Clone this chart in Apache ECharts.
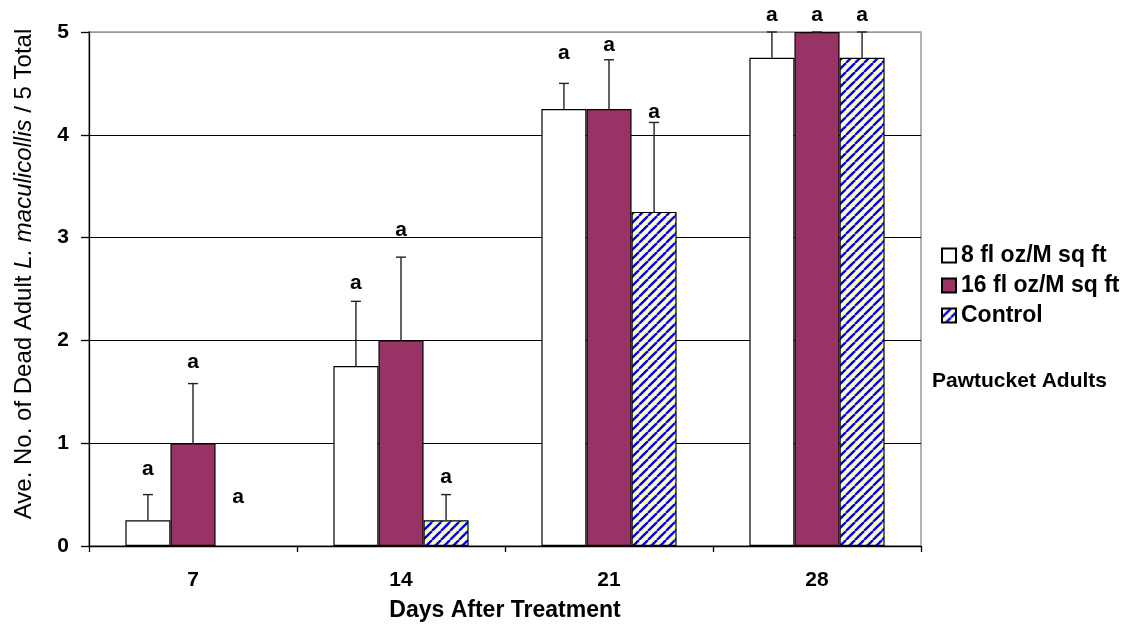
<!DOCTYPE html>
<html>
<head>
<meta charset="utf-8">
<script src="https://cdn.jsdelivr.net/npm/echarts@6/dist/echarts.min.js"></script>
<style>
  html, body { margin: 0; padding: 0; background: #fff; }
  #chart { width: 1127px; height: 633px; }
</style>
</head>
<body>
<div id="chart"></div>
<script>
// Days after treatment
const days = ['7', '14', '21', '28'];
const seriesNames = ['8 fl oz/M sq ft', '16 fl oz/M sq ft', 'Control'];

// Mean dead adults (out of 5)
const rate8 = [0.25, 1.75, 4.25, 4.75];
const rate16 = [1.0, 2.0, 4.25, 5.0];
const control = [0, 0.25, 3.25, 4.75];

// Upper end of each error bar (null = no bar)
const err8 = [0.5, 2.38, 4.5, 5.0];
const err16 = [1.58, 2.81, 4.73, 5.0];
const errControl = [null, 0.5, 4.12, 5.0];

// Significance letters and the height they are written at
const letters8 = ['a', 'a', 'a', 'a'];
const letters16 = ['a', 'a', 'a', 'a'];
const lettersControl = ['a', 'a', 'a', 'a'];
const letterAt8 = [0.75, 2.56, 4.79, 5.16];
const letterAt16 = [1.79, 3.07, 4.87, 5.16];
const letterAtControl = [0.47, 0.67, 4.22, 5.16];

const yTicks = [0, 1, 2, 3, 4, 5];

// Blue diagonal hatching on pale yellow for the control bars
function makeHatch() {
  const s = 9;
  const c = document.createElement('canvas');
  c.width = s; c.height = s;
  const g = c.getContext('2d');
  g.fillStyle = '#ffffcc';
  g.fillRect(0, 0, s, s);
  g.strokeStyle = '#0000ff';
  g.lineWidth = 2.4;
  [-s, 0, s].forEach(function (o) {
    g.beginPath();
    g.moveTo(o, s);
    g.lineTo(o + s, 0);
    g.stroke();
  });
  return c;
}
const hatch = { image: makeHatch(), repeat: 'repeat' };

const FONT = 'Arial, "Liberation Sans", sans-serif';
const GAP = 0.35;

// Zero-height bars draw nothing at all (no outline on the axis)
function barData(vals) {
  return vals.map(function (v) {
    return v === 0 ? { value: v, itemStyle: { borderWidth: 0, opacity: 0 } } : v;
  });
}

function errSeries(k, vals, tops, letters, letterAt) {
  const data = vals.map(function (v, i) { return [i, v, tops[i], letterAt[i], letters[i]]; });
  return {
    type: 'custom',
    z: 5,
    silent: true,
    data: data,
    renderItem: function (params, api) {
      const idx = api.value(0);
      const val = api.value(1);
      const top = api.value(2);
      const lAt = api.value(3);
      const letter = data[params.dataIndex][4];
      const band = api.size([1, 0])[0];
      const barW = band * (1 - GAP) / 3;
      const x = api.coord([idx, 0])[0] + (k - 1) * barW;
      const children = [];
      if (top != null && !isNaN(top)) {
        const y0 = api.coord([idx, val])[1];
        const y1 = api.coord([idx, top])[1];
        children.push({ type: 'line', shape: { x1: x, y1: y0, x2: x, y2: y1 },
          style: { stroke: '#222', lineWidth: 1.4 } });
        children.push({ type: 'line', shape: { x1: x - 5, y1: y1, x2: x + 5, y2: y1 },
          style: { stroke: '#222', lineWidth: 1.4 } });
      }
      const ly = api.coord([idx, lAt])[1];
      children.push({ type: 'text', x: x, y: ly,
        style: { text: letter, font: 'bold 21px ' + FONT, fill: '#000',
          align: 'center', verticalAlign: 'middle' } });
      return { type: 'group', children: children };
    }
  };
}

const chart = echarts.init(document.getElementById('chart'), null, { renderer: 'canvas' });
chart.setOption({
  animation: false,
  backgroundColor: '#fff',
  grid: { left: 89, right: 206, top: 32, bottom: 87, show: true,
    borderColor: '#999', borderWidth: 1.5, backgroundColor: 'transparent' },
  legend: {
    data: seriesNames,
    orient: 'vertical',
    left: 936, top: 239,
    itemWidth: 14, itemHeight: 14, itemGap: 7,
    icon: 'rect',
    textStyle: { fontFamily: FONT, fontWeight: 'bold', fontSize: 23, color: '#000' }
  },
  graphic: [{
    type: 'text', left: 932, top: 371,
    style: { text: 'Pawtucket Adults', font: 'bold 21px ' + FONT, fill: '#000' }
  }],
  xAxis: {
    type: 'category',
    data: days,
    name: 'Days After Treatment',
    nameLocation: 'middle',
    nameGap: 53,
    nameTextStyle: { fontFamily: FONT, fontWeight: 'bold', fontSize: 23, color: '#000' },
    axisLine: { lineStyle: { color: '#000', width: 1.3 } },
    axisTick: { show: true, alignWithLabel: false, length: 6, lineStyle: { color: '#000', width: 1.3 } },
    axisLabel: { margin: 24, fontFamily: FONT, fontWeight: 'bold', fontSize: 21, color: '#000' }
  },
  yAxis: {
    type: 'value',
    min: yTicks[0], max: yTicks[yTicks.length - 1], interval: 1,
    name: '{n|Ave. No. of Dead Adult }{i|L. maculicollis}{n| / 5 Total}',
    nameLocation: 'middle',
    nameGap: 53,
    nameTextStyle: {
      padding: [0, 0, 0, 30],
      rich: {
        n: { fontFamily: FONT, fontSize: 24, color: '#000' },
        i: { fontFamily: FONT, fontSize: 24, fontStyle: 'italic', color: '#000' }
      }
    },
    axisLine: { show: true, lineStyle: { color: '#000', width: 1.3 } },
    axisTick: { show: true, length: 8, lineStyle: { color: '#000', width: 1.3 } },
    axisLabel: { margin: 20, fontFamily: FONT, fontWeight: 'bold', fontSize: 21, color: '#000' },
    splitLine: { show: true, lineStyle: { color: ['#000', '#000', '#000', '#000', '#000', '#999'], width: 1.2 } }
  },
  series: [
    { name: seriesNames[0], type: 'bar', data: barData(rate8), barGap: '0%', barCategoryGap: (GAP * 100) + '%',
      itemStyle: { color: '#ffffff', borderColor: '#000', borderWidth: 1.2 } },
    { name: seriesNames[1], type: 'bar', data: barData(rate16), barGap: '0%', barCategoryGap: (GAP * 100) + '%',
      itemStyle: { color: '#993366', borderColor: '#000', borderWidth: 1.2 } },
    { name: seriesNames[2], type: 'bar', data: barData(control), barGap: '0%', barCategoryGap: (GAP * 100) + '%',
      itemStyle: { color: hatch, borderColor: '#000', borderWidth: 1.2 } },
    errSeries(0, rate8, err8, letters8, letterAt8),
    errSeries(1, rate16, err16, letters16, letterAt16),
    errSeries(2, control, errControl, lettersControl, letterAtControl)
  ]
});
</script>
</body>
</html>
